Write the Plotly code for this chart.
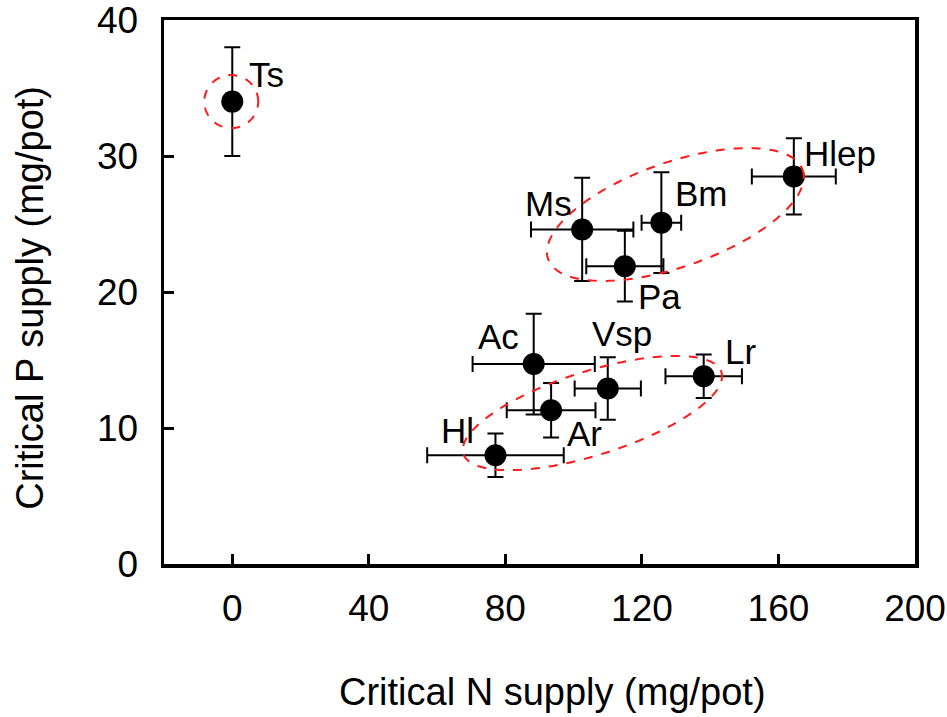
import numpy as np
import plotly.graph_objects as go

# ---- data ----
species = ["Ts", "Ms", "Pa", "Bm", "Hlep", "Ac", "Vsp", "Ar", "Lr", "Hl"]
critical_n = [0.0, 102.5, 115.0, 125.7, 164.5, 88.3, 110.0, 93.4, 138.1, 77.1]
critical_p = [34.0, 24.6, 21.9, 25.1, 28.5, 14.7, 12.9, 11.3, 13.8, 8.0]
n_error = [0.0, 15.0, 11.3, 5.8, 12.3, 17.9, 9.7, 13.0, 11.2, 20.0]
p_error = [4.0, 3.8, 2.6, 3.7, 2.8, 3.7, 2.3, 2.0, 1.6, 1.6]
x_ticks = [0, 40, 80, 120, 160, 200]
y_ticks = [0, 10, 20, 30, 40]

# label offsets in pixels (dx, dy up)
label_offsets = {
    "Ts": (34, 27), "Ms": (-34, 26), "Pa": (35, -30), "Bm": (40, 29),
    "Hlep": (46, 23), "Ac": (-35, 28), "Vsp": (14, 55), "Ar": (33, -23),
    "Lr": (37, 25), "Hl": (-38, 25),
}

# group ellipses: center (data), major half-axis vector, minor half-axis vector (data units)
ellipses = [
    dict(c=(-0.3, 34.0), u=(7.9, 0.0), v=(0.0, 1.95)),
    dict(c=(129.8, 25.7), u=(37.3, 3.27), v=(5.0, -3.63)),
    dict(c=(105.5, 11.1), u=(37.8, 3.0), v=(3.68, -2.94)),
]

FONT = "Liberation Sans, Arial, sans-serif"

fig = go.Figure()
fig.add_trace(go.Scatter(
    x=critical_n, y=critical_p, mode="markers",
    marker=dict(size=22, color="black"),
    error_x=dict(type="data", array=n_error, color="black", thickness=2, width=8),
    error_y=dict(type="data", array=p_error, color="black", thickness=2, width=8),
    showlegend=False, hoverinfo="skip",
))

t = np.linspace(0, 2 * np.pi, 121)
for e in ellipses:
    cx, cy = e["c"]
    ux, uy = e["u"]
    vx, vy = e["v"]
    xs = cx + np.cos(t) * ux + np.sin(t) * vx
    ys = cy + np.cos(t) * uy + np.sin(t) * vy
    path = "M " + " L ".join(f"{a:.3f},{b:.3f}" for a, b in zip(xs, ys)) + " Z"
    fig.add_shape(type="path", path=path, xref="x", yref="y",
                  line=dict(color="#ff1a1a", width=2, dash="dash"))

for name, xv, yv in zip(species, critical_n, critical_p):
    dx, dy = label_offsets[name]
    fig.add_annotation(x=xv, y=yv, text=name, showarrow=False,
                       xshift=dx, yshift=dy, xanchor="center", yanchor="middle",
                       font=dict(family=FONT, size=35, color="black"))

fig.add_annotation(text="Critical N supply (mg/pot)", xref="paper", yref="paper",
                   x=0.517, y=-0.235, showarrow=False, xanchor="center", yanchor="middle",
                   font=dict(family=FONT, size=38, color="black"))
fig.add_annotation(text="Critical P supply (mg/pot)", xref="paper", yref="paper",
                   x=-0.178, y=0.49, showarrow=False, textangle=-90,
                   xanchor="center", yanchor="middle",
                   font=dict(family=FONT, size=38, color="black"))

axis_common = dict(showgrid=False, zeroline=False, showline=True, linecolor="black",
                   linewidth=3.5, mirror=True, ticks="inside", ticklen=10,
                   tickwidth=3, tickcolor="black", ticklabeloverflow="allow",
                   automargin=False,
                   tickfont=dict(family=FONT, size=37, color="black"))
fig.update_xaxes(range=[-20, 200], tickvals=x_ticks, ticktext=[str(v) for v in x_ticks],
                 ticklabelstandoff=9, **axis_common)
fig.update_yaxes(range=[0, 40], tickvals=y_ticks, ticktext=[str(v) for v in y_ticks],
                 ticklabelstandoff=15, **axis_common)

fig.update_layout(width=947, height=717, plot_bgcolor="white", paper_bgcolor="white",
                  margin=dict(l=164, r=32, t=20, b=153))
fig.write_html("out.html", config={"displayModeBar": False, "staticPlot": True},
               post_script="document.body.style.margin='0';")
